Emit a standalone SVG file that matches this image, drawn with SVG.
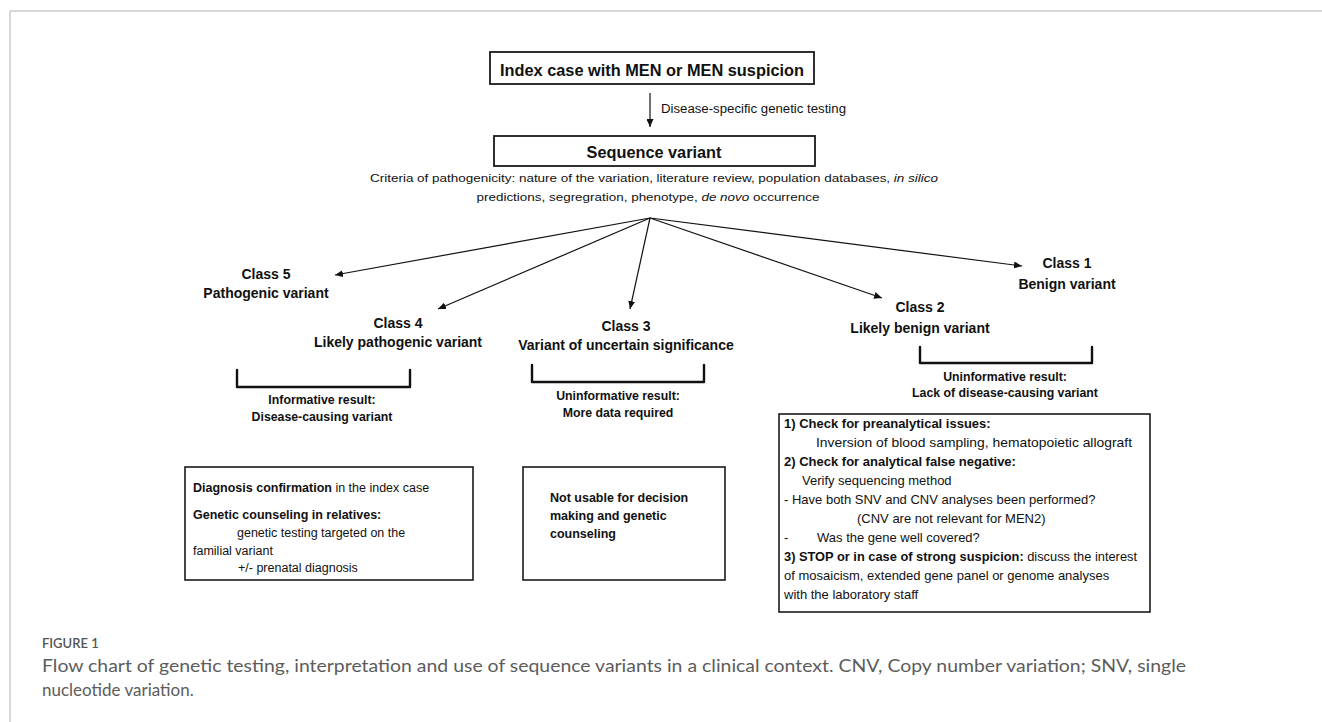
<svg xmlns="http://www.w3.org/2000/svg" width="1322" height="722" viewBox="0 0 1322 722">
<defs>
<marker id="ah" markerUnits="userSpaceOnUse" markerWidth="9" markerHeight="7" refX="8" refY="3.5" orient="auto">
<path d="M0,0 L8,3.5 L0,7 z" fill="#111"/>
</marker>
<style>
.t{font-family:"Liberation Sans",Arial,sans-serif;fill:#111}
.b{font-weight:bold}
.hd{font-size:16.3px;font-weight:bold}
.cl{font-size:14px;font-weight:bold;text-anchor:middle}
.rs{font-size:12.3px;font-weight:bold;text-anchor:middle}
.bx{font-size:12.5px}
.rb{font-size:13px}
.sm{font-size:12px}
.box{fill:#fff;stroke:#1a1a1a;stroke-width:1.6}
.brk{fill:none;stroke:#111;stroke-width:2.4;stroke-linejoin:round;stroke-linecap:round}
.cn{stroke:#111;stroke-width:1.2;fill:none;marker-end:url(#ah)}
.cap{font-family:Lato,"Liberation Sans",sans-serif;fill:#5c5c5c}
</style>
</defs>
<rect width="1322" height="722" fill="#fff"/>
<g id="frame">
<line x1="10" y1="11" x2="1322" y2="11" stroke="#cacaca" stroke-width="1.5"/>
<line x1="10" y1="11" x2="10" y2="722" stroke="#cacaca" stroke-width="1.5"/>
</g>
<g id="connectors">
<line class="cn" x1="650" y1="93" x2="650" y2="127"/>
<line class="cn" x1="650" y1="218" x2="335" y2="275"/>
<line class="cn" x1="650" y1="218" x2="438" y2="309"/>
<line class="cn" x1="650" y1="218" x2="630" y2="309"/>
<line class="cn" x1="650" y1="218" x2="882" y2="298"/>
<line class="cn" x1="650" y1="218" x2="1022" y2="266"/>
</g>
<g id="index-case">
<rect class="box" x="490" y="52" width="324" height="32" style="stroke-width:1.8"/>
<text class="t hd" x="652" y="76" text-anchor="middle" textLength="304" lengthAdjust="spacingAndGlyphs">Index case with MEN or MEN suspicion</text>
</g>
<g id="testing-label">
<text class="t sm" x="661" y="113" textLength="185" lengthAdjust="spacingAndGlyphs">Disease-specific genetic testing</text>
</g>
<g id="sequence-variant">
<rect class="box" x="494" y="136" width="321" height="30" style="stroke-width:1.8"/>
<text class="t hd" x="654" y="157.5" text-anchor="middle">Sequence variant</text>
<text class="t" style="font-size:11.5px" x="654" y="182" text-anchor="middle" textLength="568" lengthAdjust="spacingAndGlyphs">Criteria of pathogenicity: nature of the variation, literature review, population databases, <tspan font-style="italic">in silico</tspan></text>
<text class="t" style="font-size:11.5px" x="648" y="201" text-anchor="middle" textLength="343" lengthAdjust="spacingAndGlyphs">predictions, segregration, phenotype, <tspan font-style="italic">de novo</tspan> occurrence</text>
</g>
<g id="class5">
<text class="t cl" x="266" y="279">Class 5</text>
<text class="t cl" x="266" y="298">Pathogenic variant</text>
</g>
<g id="class4">
<text class="t cl" x="398" y="328">Class 4</text>
<text class="t cl" x="398" y="347">Likely pathogenic variant</text>
<path class="brk" d="M237,370 V387 H410 V370"/>
<text class="t rs" x="322" y="404">Informative result:</text>
<text class="t rs" x="322" y="421">Disease-causing variant</text>
</g>
<g id="class3">
<text class="t cl" x="626" y="331">Class 3</text>
<text class="t cl" x="626" y="350">Variant of uncertain significance</text>
<path class="brk" d="M532,365 V382 H704 V365"/>
<text class="t rs" x="618" y="400">Uninformative result:</text>
<text class="t rs" x="618" y="417">More data required</text>
</g>
<g id="class2">
<text class="t cl" x="920" y="312">Class 2</text>
<text class="t cl" x="920" y="333">Likely benign variant</text>
<path class="brk" d="M920,347 V363 H1092 V347"/>
<text class="t rs" x="1005" y="381">Uninformative result:</text>
<text class="t rs" x="1005" y="397">Lack of disease-causing variant</text>
</g>
<g id="class1">
<text class="t cl" x="1067" y="268">Class 1</text>
<text class="t cl" x="1067" y="289">Benign variant</text>
</g>
<g id="box-informative">
<rect class="box" x="185" y="467" width="288" height="113"/>
<text class="t bx" x="193" y="492"><tspan class="b">Diagnosis confirmation</tspan> in the index case</text>
<text class="t bx b" x="193" y="519">Genetic counseling in relatives:</text>
<text class="t bx" x="237" y="537">genetic testing targeted on the</text>
<text class="t bx" x="193" y="555">familial variant</text>
<text class="t bx" x="238" y="572">+/- prenatal diagnosis</text>
</g>
<g id="box-uninformative">
<rect class="box" x="523" y="467" width="202" height="113"/>
<text class="t bx b" x="550" y="502">Not usable for decision</text>
<text class="t bx b" x="550" y="520">making and genetic</text>
<text class="t bx b" x="550" y="538">counseling</text>
</g>
<g id="box-benign">
<rect class="box" x="779" y="414" width="371" height="198"/>
<text class="t rb b" x="784" y="428">1) Check for preanalytical issues:</text>
<text class="t rb" x="816" y="447" textLength="316" lengthAdjust="spacingAndGlyphs">Inversion of blood sampling, hematopoietic allograft</text>
<text class="t rb b" x="784" y="466">2) Check for analytical false negative:</text>
<text class="t rb" x="802" y="485">Verify sequencing method</text>
<text class="t rb" x="784" y="504">- Have both SNV and CNV analyses been performed?</text>
<text class="t rb" x="857" y="523">(CNV are not relevant for MEN2)</text>
<text class="t rb" x="784" y="542">-</text>
<text class="t rb" x="817" y="542">Was the gene well covered?</text>
<text class="t rb" x="784" y="561" textLength="353" lengthAdjust="spacingAndGlyphs"><tspan class="b">3) STOP or in case of strong suspicion:</tspan> discuss the interest</text>
<text class="t rb" x="784" y="580">of mosaicism, extended gene panel or genome analyses</text>
<text class="t rb" x="784" y="599">with the laboratory staff</text>
</g>
<g id="caption">
<text class="cap" x="42" y="648" style="font-size:13px;font-weight:600;fill:#555">FIGURE 1</text>
<text class="cap" x="42" y="672" style="font-size:17px" textLength="1144" lengthAdjust="spacingAndGlyphs">Flow chart of genetic testing, interpretation and use of sequence variants in a clinical context. CNV, Copy number variation; SNV, single</text>
<text class="cap" x="42" y="696" style="font-size:17px">nucleotide variation.</text>
</g>
</svg>
